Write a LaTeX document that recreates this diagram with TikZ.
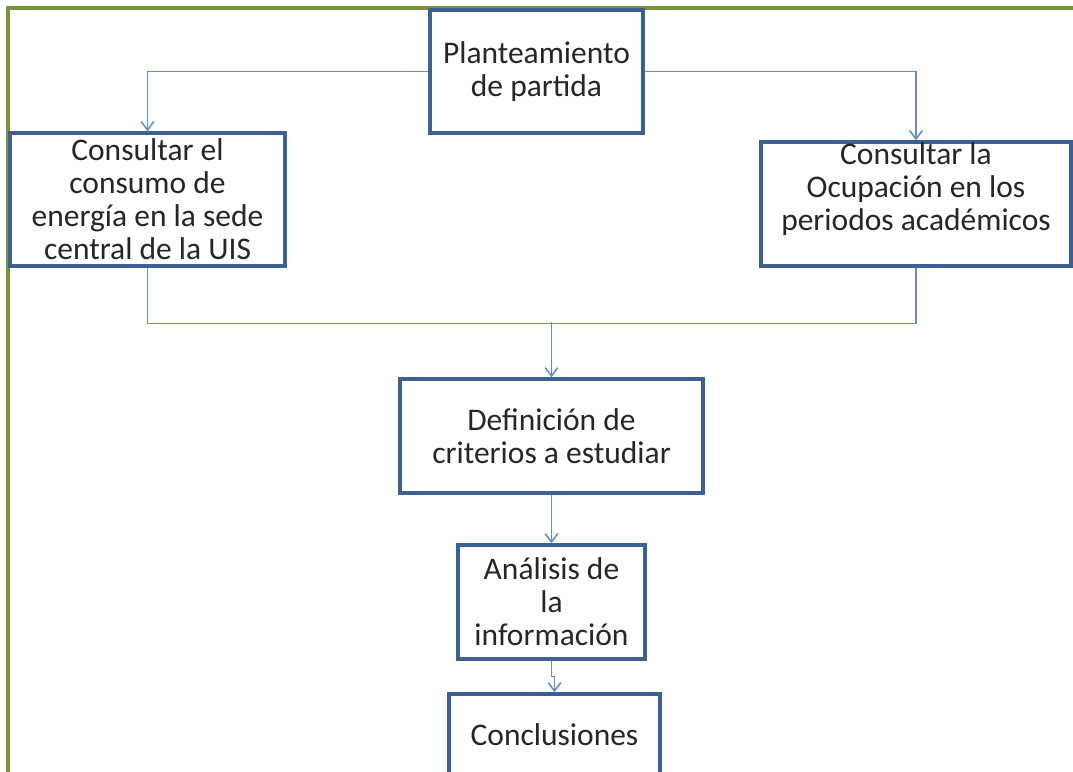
\documentclass[tikz,border=0pt]{standalone}
\usepackage{fontspec}
\setmainfont{Carlito}
\usepackage{xcolor}
\usepackage{tikz}
\usetikzlibrary{arrows.meta, positioning, calc}

\definecolor{boxblue}{RGB}{60,96,148}
\definecolor{linkblue}{RGB}{100,140,200}
\definecolor{frameolive}{RGB}{119,147,60}

\begin{document}
\begin{tikzpicture}[
    x=0.025cm, y=-0.025cm,
    box/.style={rectangle, draw=boxblue, line width=2.4pt, fill=white, align=center, text=black!85, font=\fontsize{22.4}{23.5}\selectfont},
    conn/.style={-{Straight Barb[length=6pt, width=9pt]}, line width=1.1pt, draw=linkblue},
    plainconn/.style={line width=1.1pt, draw=linkblue},
]
\useasboundingbox (0,0) rectangle (1073,771);

% Frame
\draw[frameolive, line width=2.2pt] (8,790) -- (8,8) -- (1090,8);

% Top
\node[box, minimum width=5.325cm, minimum height=3.075cm] (plan) at (536.5,71.5) {Planteamiento\\de partida};

% Row 2: consultations
\node[box, minimum width=6.875cm, minimum height=3.325cm] (consumo) at (147.5,199.5) {Consultar el\\consumo de\\energía en la sede\\central de la UIS};
\node[box, minimum width=7.75cm, minimum height=3.1cm,
    label={[align=center, text=black!85, font=\fontsize{22.4}{23.5}\selectfont, yshift=0.37cm]center:Consultar la\\Ocupación en los\\periodos académicos}] (ocup) at (916,204) {};

% Lower chain
\node[box, minimum width=7.575cm, minimum height=2.85cm] (defi) at (551.5,436) {Definición de\\criterios a estudiar};
\node[box, minimum width=4.675cm, minimum height=2.85cm] (anal) at (551.5,602) {Análisis de\\la\\información};
\node[box, minimum width=5.275cm, minimum height=2.05cm] (concl) at (554.5,735) {Conclusiones};

% Arrows
\draw[conn] (plan.west) -| (consumo.north);
\draw[conn] (plan.east) -| (ocup.north);
\draw[plainconn] (consumo.south) -- ++(0,56) -| (ocup.south);
\coordinate (join) at (551.5,322);
\draw[conn] (join) -- (defi.north);
\draw[conn] (defi) -- (anal);
\draw[conn] (anal.south) -- ++(0,16) -| (concl.north);

\end{tikzpicture}
\end{document}
